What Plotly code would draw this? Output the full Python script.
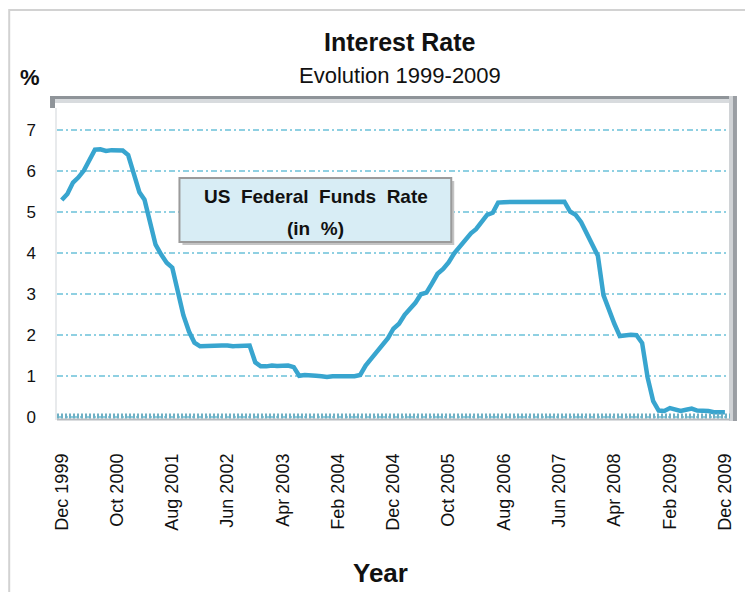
import pandas as pd
import plotly.graph_objects as go

# Monthly US federal funds rate (%), Dec 1999 - Dec 2009
months = pd.date_range("1999-12-01", "2009-12-01", freq="MS")
rate = [
    5.30,
    5.45, 5.73, 5.85, 6.02, 6.27, 6.53, 6.54, 6.50, 6.52, 6.51, 6.51, 6.40,
    5.98, 5.49, 5.31, 4.80, 4.21, 3.97, 3.77, 3.65, 3.07, 2.49, 2.09, 1.82,
    1.73, 1.74, 1.73, 1.75, 1.75, 1.75, 1.73, 1.74, 1.75, 1.75, 1.34, 1.24,
    1.24, 1.26, 1.25, 1.26, 1.26, 1.22, 1.01, 1.03, 1.01, 1.01, 1.00, 0.98,
    1.00, 1.01, 1.00, 1.00, 1.00, 1.03, 1.26, 1.43, 1.61, 1.76, 1.93, 2.16,
    2.28, 2.50, 2.63, 2.79, 3.00, 3.04, 3.26, 3.50, 3.62, 3.78, 4.00, 4.16,
    4.29, 4.49, 4.59, 4.79, 4.94, 4.99, 5.24, 5.25, 5.25, 5.25, 5.25, 5.24,
    5.25, 5.26, 5.26, 5.25, 5.25, 5.25, 5.26, 5.02, 4.94, 4.76, 4.49, 4.24,
    3.94, 2.98, 2.61, 2.28, 1.98, 2.00, 2.01, 2.00, 1.81, 0.97, 0.39, 0.16,
    0.15, 0.22, 0.18, 0.15, 0.18, 0.21, 0.16, 0.16, 0.15, 0.12, 0.12, 0.12,
]

tick_dates = pd.date_range("1999-12-01", periods=13, freq="10MS")
tick_labels = [
    "Dec 1999", "Oct 2000", "Aug 2001", "Jun 2002", "Apr 2003", "Feb 2004",
    "Dec 2004", "Oct 2005", "Aug 2006", "Jun 2007", "Apr 2008", "Feb 2009",
    "Dec 2009",
]
y_ticks = [0, 1, 2, 3, 4, 5, 6, 7]

W, H = 745, 592
L, R, T, B = 57, 735, 101, 420  # plot area in pixels

FONT = "Liberation Sans, Arial, sans-serif"


def px(x):
    return (x - L) / (R - L)


def py(y):
    return (B - y) / (B - T)


fig = go.Figure()
fig.add_trace(go.Scatter(
    x=months, y=rate, mode="lines",
    line=dict(color="#38a5cf", width=4.5),
    hoverinfo="skip", showlegend=False,
))

shapes = [
    # outer panel frame
    dict(type="rect", xref="paper", yref="paper", x0=px(9), x1=px(770),
         y0=py(10), y1=py(620), line=dict(color="#d2d2d2", width=2),
         layer="below"),
    # plot frame: top bevel, left corner, right shadow
    dict(type="rect", xref="paper", yref="paper", x0=px(50), x1=px(739),
         y0=py(96), y1=py(99), fillcolor="#8f9499", line_width=0),
    dict(type="rect", xref="paper", yref="paper", x0=px(50), x1=px(739),
         y0=py(99), y1=py(103), fillcolor="#d8dbde", line_width=0),
    dict(type="rect", xref="paper", yref="paper", x0=px(50), x1=px(55),
         y0=py(96), y1=py(108), fillcolor="#8f9499", line_width=0),
    dict(type="rect", xref="paper", yref="paper", x0=px(55), x1=px(57),
         y0=py(108), y1=py(420), fillcolor="#e8eaec", line_width=0),
    dict(type="rect", xref="paper", yref="paper", x0=px(732), x1=px(736),
         y0=py(96), y1=py(421), fillcolor="#d0d3d6", line_width=0),
    dict(type="rect", xref="paper", yref="paper", x0=px(736), x1=px(740),
         y0=py(96), y1=py(421), fillcolor="#9a9ea3", line_width=0),
    # hatched base line
    dict(type="line", xref="paper", yref="paper", x0=px(57), x1=px(733),
         y0=py(419.5), y1=py(419.5), line=dict(color="#b8bbbf", width=2)),
    dict(type="line", xref="paper", yref="paper", x0=px(57), x1=px(733),
         y0=py(416), y1=py(416), line=dict(color="#6fb0c4", width=5, dash="2px,2px")),
    # label box with shadow
    dict(type="rect", xref="paper", yref="paper", x0=px(183), x1=px(456),
         y0=py(181), y1=py(245), fillcolor="#c4c4c4", line_width=0),
    dict(type="rect", xref="paper", yref="paper", x0=px(180), x1=px(453),
         y0=py(178), y1=py(242), fillcolor="#d8edf5",
         line=dict(color="#9b9b9b", width=2)),
]

annotations = [
    dict(text="<b>Interest Rate</b>", x=px(402), y=py(42),
         font=dict(family=FONT, size=25, color="#111111")),
    dict(text="Evolution 1999-2009", x=px(402), y=py(75),
         font=dict(family=FONT, size=22, color="#111111")),
    dict(text="<b>%</b>", x=px(30), y=py(78),
         font=dict(family=FONT, size=22, color="#111111")),
    dict(text="<b>Year</b>", x=px(382), y=py(573),
         font=dict(family=FONT, size=26, color="#111111")),
    dict(text="<b>US&nbsp; Federal&nbsp; Funds&nbsp; Rate</b>", x=px(317), y=py(196),
         font=dict(family=FONT, size=19, color="#111111")),
    dict(text="<b>(in&nbsp; %)</b>", x=px(317), y=py(228),
         font=dict(family=FONT, size=19, color="#111111")),
]
for a in annotations:
    a.update(xref="paper", yref="paper", showarrow=False,
             xanchor="center", yanchor="middle")

fig.update_layout(
    width=W, height=H, autosize=False,
    margin=dict(l=L, r=W - R, t=T, b=H - B, pad=0),
    paper_bgcolor="white", plot_bgcolor="white",
    shapes=shapes, annotations=annotations,
    xaxis=dict(
        range=["1999-11-05", "2010-01-09"],
        tickvals=tick_dates, ticktext=tick_labels, tickangle=-90,
        showgrid=False, zeroline=False, showline=False, ticks="",
        ticklabelstandoff=29,
        tickfont=dict(family=FONT, size=18, color="#111111"),
    ),
    yaxis=dict(
        range=[-0.07, 7.72], tickvals=y_ticks,
        showgrid=True, gridcolor="#8fd0e2", gridwidth=1.5,
        griddash="6px,3px,2px,3px",
        zeroline=False, showline=False, ticks="",
        ticklabelstandoff=20,
        tickfont=dict(family=FONT, size=17, color="#111111"),
    ),
)

fig.write_html("out.html")
